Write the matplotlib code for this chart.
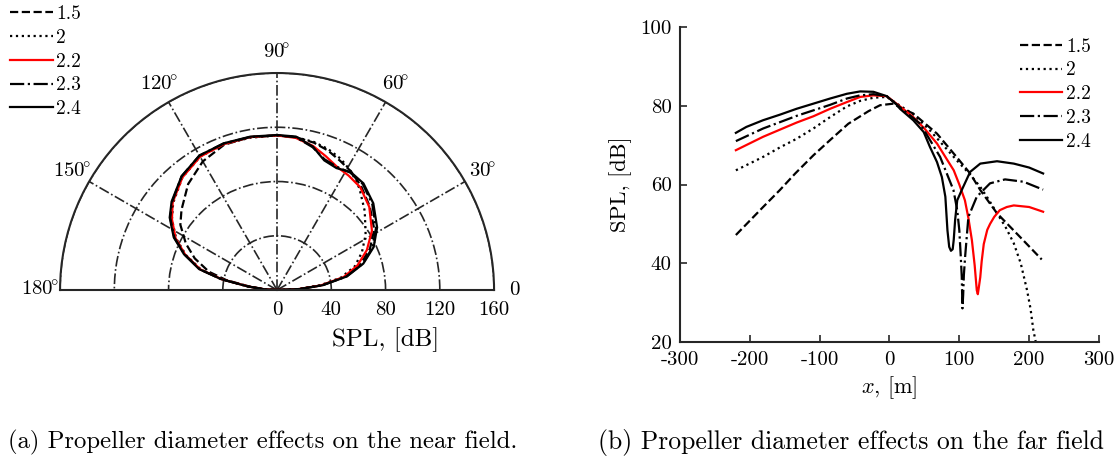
import numpy as np
import matplotlib
matplotlib.use("Agg")
from matplotlib import pyplot as plt

plt.rcParams["font.family"] = "serif"
plt.rcParams["font.serif"] = ["cmr10", "DejaVu Serif"]
plt.rcParams["mathtext.fontset"] = "cm"
plt.rcParams["axes.unicode_minus"] = False
plt.rcParams["axes.formatter.use_mathtext"] = False

# --- data ---------------------------------------------------------------
diameters = ["1.5", "2", "2.2", "2.3", "2.4"]
styles = [("--", "k"), (":", "k"), ("-", "#ff0000"), ("-.", "k"), ("-", "k")]

# near field directivity, angle in degrees, SPL in dB
near_theta = [0, 2.5, 6, 11, 17, 24, 32, 42, 51, 58, 64, 70, 76, 83, 90,
              100, 110, 120, 130, 140, 146, 153, 159, 165, 169, 173, 177, 180]
near_15 = [0, 16, 33, 51, 64, 75, 84.5, 92, 98.5, 103, 106, 109.5, 112, 113.5, 114,
           114.5, 114, 109.5, 102, 92, 86, 75.5, 65, 52, 38, 20, 8, 0]
near_20 = [0, 15.5, 31.5, 48, 60, 68.5, 77, 87, 96.5, 103, 107.5, 110.5, 112.5, 113.5, 114,
           114, 114.5, 113.5, 108.5, 100, 93.5, 83.5, 72, 58, 41, 21.5, 9, 0]
near_22 = [0, 16, 32.5, 50, 62, 72.5, 82.5, 91.5, 97.5, 99.5, 101, 105, 109.5, 113, 114,
           114.5, 114.5, 113.5, 108.5, 100.5, 93.5, 84, 72.5, 58.5, 41.5, 21.5, 9, 0]
near_23 = [0, 16.5, 33.5, 52, 66, 77, 86, 94.5, 100.5, 102, 101, 102.5, 108.5, 113.5, 114,
           114.5, 115, 114.5, 109.5, 101, 95, 85, 73, 59, 42, 22, 9, 0]
near_24 = [0, 17, 34, 52.5, 66.5, 78, 87, 95.5, 101.2, 102.5, 100, 101.7, 109, 114, 114.3,
           114.8, 115.1, 114.5, 109.5, 101.5, 95.5, 85.5, 73.5, 59.5, 42, 22, 9, 0]

# far field, x in m, SPL in dB
far_x_15 = [-220, -181, -157, -135, -109, -83, -59, -30, -13.5, 5.6, 15, 34, 68, 96,
            115.5, 130, 154, 187, 218]
far_y_15 = [47.2, 54.3, 58.6, 62.8, 67.4, 71.6, 75.4, 78.6, 80.1, 80.5, 79.5, 78, 72.9, 67,
            62.8, 58.6, 52.7, 46.7, 41.0]
far_x_20 = [-220, -181, -157, -133, -109, -85, -61, -42, -23, -4, 15, 34, 58, 96, 115,
            130, 142, 154, 166, 178, 188, 197, 202, 206, 209, 212]
far_y_20 = [63.6, 67, 69.4, 71.6, 74.2, 77.1, 79.8, 81.2, 82, 82.2, 80, 77.8, 73.7, 66.2, 62.6,
            59.4, 56.2, 52.7, 49.3, 45.1, 40, 33.2, 28.5, 23.1, 20.5, 17]
far_x_22 = [-220, -181, -157, -133, -109, -85, -61, -42, -23, -4, 15, 34, 50, 68, 80, 92,
            100, 108, 113, 118, 122, 125, 126.5, 128, 130, 132, 135, 140, 144, 150, 158,
            168, 178, 200, 220]
far_y_22 = [68.7, 72.1, 73.9, 75.7, 77.3, 79.2, 80.9, 82.2, 82.6, 82.4, 79.8, 77.1, 74.2, 70.4, 67, 63.6,
            60, 56, 51.5, 45.9, 39.5, 33.2, 32.2, 34, 36.5, 40.5, 44.9, 48.5, 50, 51.8, 53.5,
            54.3, 54.7, 54.3, 53.1]
far_x_23 = [-220, -181, -157, -133, -109, -85, -61, -42, -23, -4, 15, 44, 72.5, 91.6, 97,
            100, 102, 103.5, 104.5, 105.5, 106.5, 108.3, 113, 125, 144, 165.5, 192, 220]
far_y_23 = [71.0, 74.2, 75.8, 77.4, 78.8, 80.2, 81.8, 82.6, 82.9, 82.4, 79.6, 75.4, 67, 58.6, 53.5,
            48.4, 42, 36.6, 28.6, 32, 37, 41.7, 51.8, 56.9, 60.3, 61.3, 60.7, 58.7]
far_x_24 = [-220, -205, -181, -157, -133, -109, -85, -61, -42, -23, -4, 10, 15, 34, 49, 58,
            68, 75, 80, 83, 85.5, 88, 90.5, 92, 94, 97, 103.5, 115.5, 130, 154, 178, 200, 220]
far_y_24 = [73.1, 74.6, 76.3, 77.7, 79.2, 80.5, 81.8, 83.0, 83.6, 83.5, 82.4, 80.3, 79.2, 76.3, 73.3, 69.5,
            65.7, 61.9, 56.9, 48.4, 44.2, 43.2, 43.6, 46, 51, 56, 58.6, 63.2, 65.3, 65.9, 65.3, 64.3, 62.8]

near = [near_15, near_20, near_22, near_23, near_24]
far = [(far_x_15, far_y_15), (far_x_20, far_y_20), (far_x_22, far_y_22),
       (far_x_23, far_y_23), (far_x_24, far_y_24)]

fig = plt.figure(figsize=(11.19, 4.59), dpi=100)
dark = "#262626"

# --- (a) near field -----------------------------------------------------
# polar axes keeps a square box, the half disk sits in its middle
ax1 = fig.add_axes([0.0536, 0.1318, 0.388, 0.9455], projection="polar")
ax1.set_thetamin(0)
ax1.set_thetamax(180)
ax1.set_rlim(0, 160)
ax1.set_rticks([40, 80, 120, 160])
ax1.set_yticklabels([])
ax1.set_thetagrids([0, 30, 60, 90, 120, 150, 180],
                   ["0", r"$30\!^{\circ}$", r"$60\!^{\circ}$", r"$90\!^{\circ}$",
                    r"$120\!^{\circ}$", r"$150\!^{\circ}$", r"$180\!^{\circ}$"], fontsize=15)
ax1.tick_params(axis="x", pad=4)
ax1.grid(True, linestyle="-.", color=dark, linewidth=1.2)
for sp in ax1.spines.values():
    sp.set_color(dark)
    sp.set_linewidth(1.5)

th = np.deg2rad(near_theta)
handles = []
for lab, (ls, col), r in zip(diameters, styles, near):
    (h,) = ax1.plot(th, r, ls, color=col, lw=1.6, label=lab)
    handles.append(h)

for v in [0, 40, 80, 120, 160]:
    ax1.annotate(str(v), xy=(0, v), xytext=(0, -8), textcoords="offset points",
                 ha="center", va="top", fontsize=15)
fig.text(386 / 1119, 1 - 340 / 459, "SPL, [dB]", ha="center", va="center", fontsize=18)

fig.legend(handles=handles, loc="upper left", bbox_to_anchor=(0.0, 1.01),
           frameon=False, fontsize=14, handlelength=2.2, handletextpad=0.2,
           labelspacing=0.3, borderaxespad=0.1)

# --- (b) far field ------------------------------------------------------
ax2 = fig.add_axes([0.6077, 0.2542, 0.3744, 0.6876])
for lab, (ls, col), (x, y) in zip(diameters, styles, far):
    ax2.plot(x, y, ls, color=col, lw=1.6, label=lab)
ax2.set_xlim(-300, 300)
ax2.set_ylim(20, 100)
ax2.set_xticks([-300, -200, -100, 0, 100, 200, 300])
ax2.set_yticks([20, 40, 60, 80, 100])
ax2.spines["top"].set_visible(False)
ax2.spines["right"].set_visible(False)
for s in ["left", "bottom"]:
    ax2.spines[s].set_color(dark)
    ax2.spines[s].set_linewidth(1.5)
ax2.tick_params(direction="in", length=5, width=1.2, color=dark, labelsize=15, pad=6)
ax2.set_xlabel(r"$x$, [m]", fontsize=16, labelpad=4)
ax2.set_ylabel("SPL, [dB]", fontsize=16, labelpad=6)
ax2.legend(loc="upper right", bbox_to_anchor=(1.0, 0.99), borderaxespad=0, frameon=False,
           fontsize=14, handlelength=2.2, handletextpad=0.2, labelspacing=0.3)

# captions
fig.text(263 / 1119, 1 - 442 / 459, "(a) Propeller diameter effects on the near field.",
         ha="center", va="center", fontsize=17.8)
fig.text(598 / 1119, 1 - 442 / 459, "(b) Propeller diameter effects on the far field",
         ha="left", va="center", fontsize=18.5)

fig.savefig("out.png", dpi=100)
